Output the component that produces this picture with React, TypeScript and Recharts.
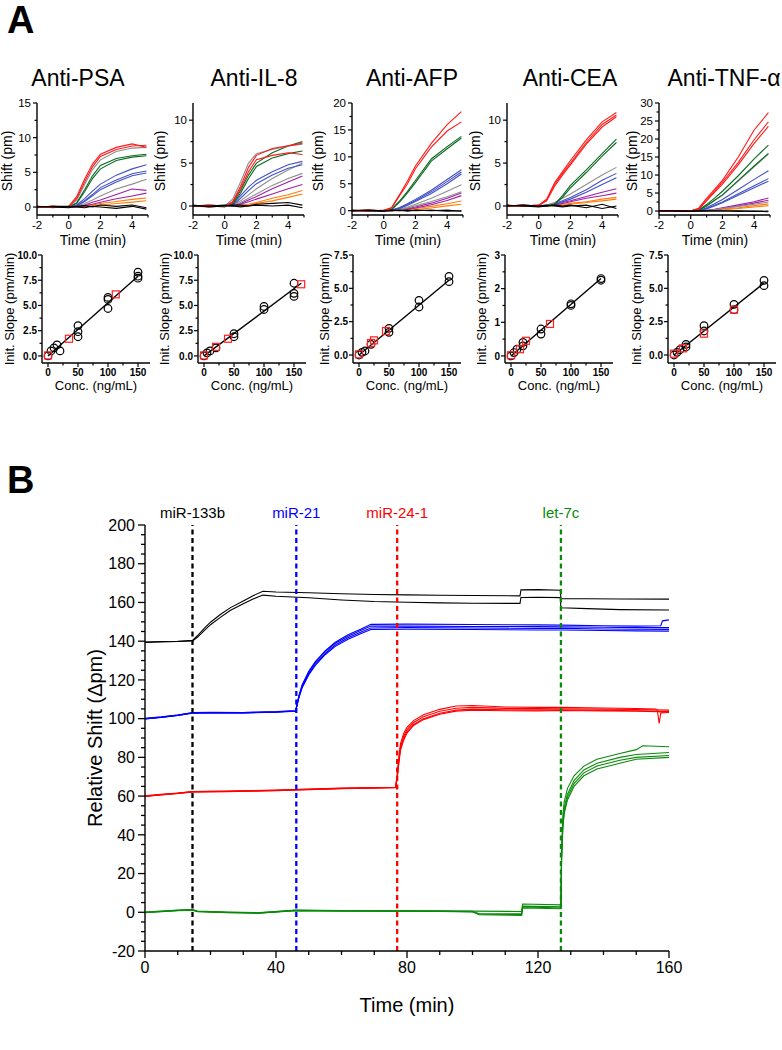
import React from 'react';
import { LineChart, Line, XAxis, YAxis, ScatterChart, Scatter, ReferenceLine } from 'recharts';

const FONT = '"Liberation Sans", Arial, Helvetica, sans-serif';

// ---------------- Panel A: sensorgram traces ----------------
const TIME_A = [-2, -1, 0, 0.5, 1, 1.5, 2, 3, 4, 4.9];
const PANEL_TITLES = ['Anti-PSA', 'Anti-IL-8', 'Anti-AFP', 'Anti-CEA', 'Anti-TNF-α'];

// group key per trace: r=150, g=100, b=50, y=gray, p=purple, o=orange, k=0 ng/mL
const PSA_GROUPS = ['r', 'r', 'y', 'g', 'g', 'b', 'b', 'b', 'y', 'p', 'p', 'o', 'o', 'k', 'k'];
const PSA_TRACES = [
  [0.1, -0.1, 0.1, 1.5, 4.0, 6.2, 7.6, 8.6, 9.1, 8.6],
  [-0.1, 0.1, 0, 1.2, 3.6, 5.8, 7.3, 8.3, 8.8, 8.9],
  [0, 0, 0, 1.0, 3.2, 5.4, 6.8, 8.0, 8.5, 8.6],
  [0, 0.1, 0, 0.6, 2.5, 4.5, 6.0, 7.0, 7.4, 7.6],
  [0, 0, 0.1, 0.5, 2.2, 4.1, 5.5, 6.7, 7.2, 7.4],
  [0, 0, 0, 0.3, 1.2, 2.3, 3.3, 4.6, 5.5, 6.1],
  [0, 0.1, 0, 0.2, 0.9, 1.8, 2.8, 3.9, 4.8, 5.2],
  [0, 0, 0, 0.2, 0.8, 1.6, 2.5, 3.6, 4.5, 4.9],
  [0, 0, 0, 0.1, 0.5, 1.0, 1.6, 2.6, 3.3, 4.0],
  [0, 0, 0, 0.1, 0.3, 0.7, 1.0, 1.8, 2.6, 2.4],
  [0, 0, 0, 0, 0.2, 0.4, 0.7, 1.2, 1.6, 2.0],
  [0, 0, 0, 0, 0.1, 0.3, 0.5, 0.8, 1.1, 1.3],
  [0, 0, 0, 0, 0.1, 0.2, 0.3, 0.5, 0.7, 0.9],
  [0.1, 0, -0.1, 0.1, 0.2, 0, 0.3, 0.1, 0.3, -0.1],
  [0, 0.1, 0.1, 0, -0.1, 0.1, 0, -0.2, 0.1, -0.3],
];

const IL8_GROUPS = ['r', 'r', 'y', 'g', 'g', 'b', 'b', 'y', 'y', 'p', 'p', 'o', 'o', 'k', 'k'];
const IL8_TRACES = [
  [0, 0.1, 0, 0.5, 2.3, 4.5, 5.9, 6.7, 7.0, 7.3],
  [0, -0.1, 0, 0.4, 2.0, 4.0, 5.4, 5.9, 6.2, 6.0],
  [0, 0, 0, 0.8, 2.8, 5.0, 6.1, 6.6, 7.0, 7.2],
  [0, 0, -0.1, 0.3, 1.8, 3.6, 5.0, 6.2, 7.0, 7.5],
  [0, 0.1, 0, 0.2, 1.5, 3.2, 4.6, 5.6, 6.1, 6.4],
  [0, 0, 0, 0.2, 1.2, 2.2, 3.0, 4.0, 4.8, 5.2],
  [0, 0, 0, 0.1, 0.9, 1.8, 2.6, 3.6, 4.4, 4.8],
  [0, 0, 0, 0.1, 0.6, 1.3, 2.0, 3.2, 4.2, 5.0],
  [0, 0, 0, 0.1, 0.4, 0.9, 1.4, 2.4, 3.2, 3.8],
  [0, 0, 0, 0, 0.3, 0.7, 1.1, 2.0, 2.8, 3.5],
  [0, 0, 0, 0, 0.2, 0.5, 0.8, 1.4, 2.0, 2.5],
  [0, 0, 0, 0, 0.1, 0.2, 0.4, 0.9, 1.3, 1.8],
  [0, 0, 0, 0, 0, 0.1, 0.3, 0.6, 1.0, 1.4],
  [0.1, -0.1, 0, 0.1, 0.1, 0, 0.2, 0.3, 0.4, 0.1],
  [0, 0, 0.1, 0, -0.1, 0, 0.1, 0, 0.1, -0.2],
];

const AFP_GROUPS = ['r', 'r', 'g', 'g', 'b', 'b', 'b', 'y', 'y', 'p', 'p', 'o', 'o', 'k', 'k'];
const AFP_TRACES = [
  [0, 0.1, 0, 0.6, 3.0, 5.5, 8.3, 12.5, 16.0, 18.4],
  [0, -0.1, 0.1, 0.5, 2.8, 5.0, 7.8, 11.8, 14.8, 16.5],
  [0, 0, 0, 0.3, 1.8, 3.6, 5.6, 9.6, 11.9, 13.8],
  [0, 0.1, 0, 0.2, 1.6, 3.3, 5.2, 9.2, 11.5, 13.5],
  [0, 0, 0, 0.1, 0.6, 1.3, 2.1, 3.8, 5.8, 7.6],
  [0, 0, 0, 0.1, 0.5, 1.1, 1.9, 3.5, 5.4, 7.2],
  [0, 0, 0, 0.1, 0.4, 1.0, 1.7, 3.2, 5.0, 6.8],
  [0, 0, 0, 0.1, 0.3, 0.7, 1.2, 2.3, 3.6, 4.8],
  [0, 0, 0, 0, 0.2, 0.5, 0.9, 1.7, 2.6, 3.5],
  [0, 0, 0, 0, 0.2, 0.4, 0.7, 1.4, 2.3, 3.3],
  [0, 0, 0, 0, 0.1, 0.3, 0.5, 1.1, 1.9, 2.8],
  [0, 0, 0, 0, 0.1, 0.2, 0.4, 0.8, 1.3, 1.8],
  [0, 0, 0, 0, 0, 0.1, 0.2, 0.5, 0.9, 1.2],
  [0.1, 0, -0.1, 0.1, 0, 0.1, 0, 0.1, -0.1, 0],
  [0, 0.1, 0, 0, 0.1, -0.1, 0.1, 0, 0.1, -0.1],
];

const CEA_GROUPS = ['r', 'r', 'r', 'g', 'g', 'y', 'b', 'b', 'p', 'p', 'o', 'o', 'k', 'k'];
const CEA_TRACES = [
  [0.1, 0, 0.1, 0.8, 2.7, 4.0, 5.3, 7.7, 9.8, 10.9],
  [0, 0.1, 0, 0.7, 2.5, 3.8, 5.0, 7.4, 9.5, 10.6],
  [0, 0, 0.1, 0.6, 2.3, 3.6, 4.8, 7.2, 9.2, 10.4],
  [0, 0, 0, 0, 0.2, 1.2, 2.4, 4.2, 6.1, 7.8],
  [0, 0.1, 0, 0, 0.2, 1.0, 2.1, 3.9, 5.8, 7.4],
  [0, 0, 0, 0.1, 0.4, 0.9, 1.4, 2.5, 3.6, 4.5],
  [0, 0, 0, 0.1, 0.3, 0.6, 1.0, 1.9, 3.0, 3.8],
  [0, 0, 0, 0, 0.2, 0.5, 0.8, 1.6, 2.5, 3.3],
  [0, 0, 0, 0, 0.2, 0.4, 0.6, 1.1, 1.6, 2.0],
  [0, 0, 0, 0, 0.1, 0.3, 0.5, 0.9, 1.2, 1.5],
  [0, 0, 0, 0, 0.1, 0.2, 0.3, 0.5, 0.8, 1.0],
  [0, 0, 0, 0, 0, 0.1, 0.2, 0.4, 0.6, 0.8],
  [0.1, 0, -0.1, 0, 0.1, 0, 0.1, -0.2, 0.2, -0.3],
  [0, 0.1, 0, 0.1, 0, -0.1, 0, 0.1, -0.3, 0],
];

const TNF_GROUPS = ['r', 'r', 'r', 'g', 'g', 'y', 'b', 'b', 'b', 'y', 'p', 'p', 'o', 'o', 'k', 'k'];
const TNF_TRACES = [
  [0, 0.1, 0, 0.8, 3.5, 6.0, 8.5, 15.0, 22.5, 27.3],
  [0, -0.1, 0.1, 0.6, 3.0, 5.5, 8.0, 13.5, 19.8, 24.8],
  [0, 0, 0, 0.5, 2.8, 5.2, 7.5, 12.8, 18.8, 23.5],
  [0, 0, 0, 0.3, 1.8, 3.6, 5.5, 9.8, 14.5, 18.3],
  [0, 0.1, 0, 0.2, 1.4, 3.0, 4.5, 8.5, 12.5, 16.0],
  [0, 0, 0, 0.2, 1.4, 2.9, 4.4, 8.3, 12.3, 15.8],
  [0, 0, 0, 0.1, 0.9, 2.0, 3.2, 6.0, 8.8, 11.2],
  [0, 0, 0, 0.1, 0.7, 1.6, 2.5, 4.8, 7.0, 9.0],
  [0, 0, 0, 0.1, 0.6, 1.4, 2.3, 4.4, 6.5, 8.3],
  [0, 0, 0, 0, 0.2, 0.4, 0.7, 1.3, 1.9, 2.5],
  [0, 0, 0, 0, 0.2, 0.5, 0.9, 1.7, 2.6, 3.6],
  [0, 0, 0, 0, 0.1, 0.4, 0.7, 1.4, 2.2, 3.0],
  [0, 0, 0, 0, 0.1, 0.3, 0.5, 0.9, 1.5, 2.0],
  [0, 0, 0, 0, 0.1, 0.2, 0.3, 0.7, 1.1, 1.5],
  [0.1, 0, -0.1, 0, 0.1, 0, 0.1, -0.1, 0, -0.2],
  [0, 0.1, 0, 0.1, 0, 0.1, 0, 0.1, -0.1, 0],
];

// ---------------- Panel A: calibration (initial slope vs conc.) ----------------
const PSA_STD_X = [0, 5, 10, 15, 20, 50, 50, 50, 100, 100, 100, 150, 150, 150];
const PSA_STD_Y = [0, 0.5, 0.8, 1.1, 0.5, 1.9, 2.4, 3.0, 4.7, 5.6, 5.8, 7.7, 7.9, 8.3];
const PSA_SMP_X = [0, 35, 113];
const PSA_SMP_Y = [0.05, 1.7, 6.1];
const PSA_FIT_X = [0, 150];
const PSA_FIT_Y = [0, 7.9];

const IL8_STD_X = [0, 5, 10, 20, 50, 50, 100, 100, 150, 150, 150];
const IL8_STD_Y = [0, 0.3, 0.5, 0.8, 1.9, 2.2, 4.6, 4.9, 5.9, 6.2, 7.2];
const IL8_SMP_X = [0, 20, 40, 162];
const IL8_SMP_Y = [0.05, 0.9, 1.7, 7.1];
const IL8_FIT_X = [0, 162];
const IL8_FIT_Y = [0, 7.2];

const AFP_STD_X = [0, 5, 10, 20, 50, 50, 100, 100, 150, 150];
const AFP_STD_Y = [0, 0.2, 0.3, 0.8, 1.7, 2.0, 3.6, 4.1, 5.5, 5.9];
const AFP_SMP_X = [0, 20, 25, 45];
const AFP_SMP_Y = [0.05, 0.9, 1.1, 1.8];
const AFP_FIT_X = [0, 150];
const AFP_FIT_Y = [0, 5.6];

const CEA_STD_X = [0, 5, 10, 20, 20, 50, 50, 100, 100, 150, 150];
const CEA_STD_Y = [0, 0.1, 0.2, 0.3, 0.4, 0.65, 0.8, 1.5, 1.55, 2.25, 2.3];
const CEA_SMP_X = [0, 15, 25, 65];
const CEA_SMP_Y = [0.02, 0.2, 0.45, 0.95];
const CEA_FIT_X = [0, 150];
const CEA_FIT_Y = [0, 2.3];

const TNF_STD_X = [0, 5, 10, 20, 20, 50, 50, 100, 100, 150, 150];
const TNF_STD_Y = [0, 0.2, 0.4, 0.6, 0.8, 1.8, 2.2, 3.4, 3.8, 5.2, 5.6];
const TNF_SMP_X = [0, 15, 50, 100];
const TNF_SMP_Y = [0.1, 0.5, 1.6, 3.4];
const TNF_FIT_X = [0, 150];
const TNF_FIT_Y = [0, 5.4];

// ---------------- Panel B: miRNA multiplex traces (time min, shift pm) ----------------
const B_BLACK_1: [number, number][] = [[0, 139.6], [5, 139.8], [10, 140.0], [14.5, 140.4], [16, 142.8], [18, 146.5], [20, 149.8], [23, 153.8], [26, 157.2], [30, 160.8], [33, 163.5], [36, 165.8], [40, 165.4], [50, 165.0], [60, 164.5], [70, 164.1], [80, 163.9], [90, 163.7], [100, 163.6], [114.5, 163.4], [114.8, 166.5], [120, 166.6], [126.8, 166.3], [127, 162.0], [135, 161.9], [145, 161.8], [160, 161.7]];
const B_BLACK_2: [number, number][] = [[0, 139.4], [5, 139.6], [10, 139.8], [14.5, 140.1], [16, 142.0], [18, 145.3], [20, 148.5], [23, 152.3], [26, 155.8], [30, 159.3], [33, 161.8], [36, 163.8], [40, 163.2], [50, 162.4], [60, 161.3], [70, 160.5], [80, 160.1], [90, 159.8], [100, 159.6], [114.5, 159.5], [114.8, 162.6], [120, 162.7], [126.8, 162.5], [127, 157.3], [135, 156.8], [145, 156.3], [160, 156.1]];
const B_BLUE_1: [number, number][] = [[0, 100], [5, 100.8], [10, 101.8], [14.5, 103], [20, 103.2], [30, 103.1], [40, 103.5], [46, 104], [46.5, 108], [47, 112], [48, 117.5], [50, 124.5], [52, 129.5], [55, 135], [58, 139.3], [62, 143.3], [66, 146.3], [69, 148.7], [80, 148.8], [100, 148.6], [120, 148.4], [127, 148.3], [140, 148], [150, 147.8], [157.5, 148], [158, 150.5], [160, 151]];
const B_BLUE_2: [number, number][] = [[0, 99.8], [5, 100.6], [10, 101.6], [14.5, 102.8], [20, 103], [30, 102.9], [40, 103.3], [46, 103.8], [46.5, 107.5], [47, 111.5], [48, 117], [50, 124], [52, 129], [55, 134.5], [58, 138.8], [62, 142.6], [66, 145.6], [69, 147.8], [80, 147.8], [100, 147.6], [120, 147.5], [127, 147.4], [140, 147.2], [150, 147], [160, 147]];
const B_BLUE_3: [number, number][] = [[0, 100.2], [5, 100.9], [10, 101.9], [14.5, 103.1], [20, 103.3], [30, 103.2], [40, 103.6], [46, 104.1], [46.5, 107.8], [47, 111.2], [48, 116.5], [50, 123.2], [52, 128.2], [55, 133.6], [58, 137.9], [62, 141.8], [66, 144.8], [69, 146.8], [80, 147], [100, 146.8], [120, 146.6], [127, 146.6], [140, 146.3], [150, 146.2], [160, 146.1]];
const B_BLUE_4: [number, number][] = [[0, 99.9], [5, 100.7], [10, 101.7], [14.5, 102.9], [20, 103.1], [30, 103], [40, 103.4], [46, 103.9], [46.5, 107.3], [47, 110.8], [48, 116], [50, 122.6], [52, 127.5], [55, 133], [58, 137.2], [62, 141], [66, 144], [69, 146], [80, 146.2], [100, 146], [120, 145.8], [127, 145.8], [140, 145.5], [150, 145.3], [160, 145.2]];
const B_RED_1: [number, number][] = [[0, 60], [5, 60.8], [10, 61.5], [14.5, 62.3], [25, 62.5], [40, 63], [50, 63.5], [60, 64], [76.5, 64.5], [77, 71], [77.5, 80], [78, 87], [79, 92.5], [80, 95.5], [82, 99], [85, 102], [90, 104.8], [95, 106.5], [100, 106.8], [110, 106], [120, 105.8], [127, 105.8], [140, 105.5], [150, 105.2], [156, 105], [157, 103.5], [160, 103.8]];
const B_RED_2: [number, number][] = [[0, 59.8], [5, 60.6], [10, 61.3], [14.5, 62.1], [25, 62.3], [40, 62.8], [50, 63.3], [60, 63.8], [76.5, 64.3], [77, 70], [77.5, 78.5], [78, 85.5], [79, 91], [80, 94.3], [82, 98], [85, 101], [90, 103.8], [95, 105.4], [100, 105.8], [110, 105.3], [120, 105.2], [127, 105.1], [140, 104.9], [150, 104.7], [160, 104.4]];
const B_RED_3: [number, number][] = [[0, 60.1], [5, 60.9], [10, 61.6], [14.5, 62.4], [25, 62.6], [40, 63.1], [50, 63.6], [60, 64.1], [76.5, 64.6], [77, 69.5], [77.5, 77.5], [78, 84.5], [79, 90], [80, 93.2], [82, 97], [85, 100], [90, 102.8], [95, 104.4], [100, 104.9], [110, 104.6], [120, 104.5], [127, 104.6], [140, 104.3], [150, 104.1], [160, 103.7]];
const B_RED_4: [number, number][] = [[0, 59.9], [5, 60.7], [10, 61.4], [14.5, 62.2], [25, 62.4], [40, 62.9], [50, 63.4], [60, 63.9], [76.5, 64.4], [77, 69], [77.5, 77], [78, 83.5], [79, 89], [80, 92.5], [82, 96.5], [85, 99.5], [90, 102.3], [95, 103.9], [100, 104.3], [110, 104.1], [120, 104], [127, 104.2], [140, 104], [150, 103.8], [156.5, 103.6], [157, 97.5], [157.5, 103], [160, 103.2]];
const B_GREEN_1: [number, number][] = [[0, 0], [5, 0.5], [10, 1], [14.5, 1.3], [16, 0.5], [25, 0], [35, -0.3], [46, 1], [60, 0.8], [77, 0.7], [90, 0.6], [100, 0.6], [115, 0.4], [115.3, 4.3], [127, 3.8], [127.2, 32], [127.6, 50], [128, 57], [129, 64], [131, 70.5], [134, 75.5], [138, 79], [145, 82], [150, 84], [152, 86], [160, 85.5]];
const B_GREEN_2: [number, number][] = [[0, -0.2], [5, 0.3], [10, 0.8], [14.5, 1.1], [16, 0.3], [25, -0.2], [35, -0.5], [46, 0.8], [60, 0.6], [77, 0.5], [90, 0.4], [100, 0.2], [102, -0.6], [115, -0.8], [115.3, 3.2], [127, 2.8], [127.2, 30], [127.6, 47], [128, 54], [129, 61], [131, 68], [134, 73.5], [138, 77], [145, 80], [150, 81.5], [160, 82.5]];
const B_GREEN_3: [number, number][] = [[0, 0.1], [5, 0.6], [10, 1.1], [14.5, 1.4], [16, 0.6], [25, 0.1], [35, -0.2], [46, 1.1], [60, 0.9], [77, 0.8], [90, 0.7], [100, 0.5], [102, -1], [115, -1.2], [115.3, 2.8], [127, 2.2], [127.2, 28], [127.6, 45], [128, 52], [129, 59.5], [131, 66.5], [134, 72], [138, 75.5], [145, 78.5], [150, 80], [160, 81]];
const B_GREEN_4: [number, number][] = [[0, -0.1], [5, 0.4], [10, 0.9], [14.5, 1.2], [16, 0.4], [25, -0.1], [35, -0.4], [46, 0.9], [60, 0.7], [77, 0.6], [90, 0.5], [100, 0.3], [102, -1.3], [115, -1.6], [115.3, 2.2], [127, 1.8], [127.2, 27], [127.6, 44], [128, 51], [129, 58], [131, 65], [134, 70.5], [138, 74], [145, 77], [150, 79], [160, 80]];

const B_EVENTS_T = [14.5, 46.2, 77, 127];
const B_EVENTS_LABEL = ['miR-133b', 'miR-21', 'miR-24-1', 'let-7c'];

// ---------------- styles ----------------
const GROUP_COLORS: Record<string, string> = {
  r: '#ff1a1a', g: '#0b6b21', b: '#4150c6', y: '#8e8e8e', p: '#a11ea6', o: '#ff7c0a', k: '#000000',
};
const B_COLORS = { black: '#000000', blue: '#0000ff', red: '#ff0000', green: '#0a8a0a' };
const B_EVENT_COLORS = ['#000000', '#0000ff', '#ff0000', '#0a8a0a'];

const TOP_AXIS_X = [37, 193, 352, 507, 659];
const SCAT_AXIS_X = [42, 198, 353, 505, 668];

const near = (a: number, b: number) => Math.abs(a - b) < 1e-6;
const range = (a: number, b: number, s: number) => {
  const out: number[] = [];
  for (let v = a; v <= b + 1e-9; v += s) out.push(Math.round(v * 1000) / 1000);
  return out;
};

type TickOpt = { majors: number[]; fmt: (v: number) => string; fs: number; bold?: boolean; maj: number; min: number; gap: number; sw: number };

const leftTick = (o: TickOpt) => (props: any) => {
  const { x, y, payload } = props;
  const v = payload.value;
  const isMaj = o.majors.some((m) => near(m, v));
  const len = isMaj ? o.maj : o.min;
  return (
    <g>
      <line x1={x} x2={x - len} y1={y} y2={y} stroke="#000" strokeWidth={o.sw} />
      {isMaj && (
        <text x={x - o.maj - o.gap} y={y} dy="0.36em" textAnchor="end" fontSize={o.fs} fontWeight={o.bold ? 'bold' : 'normal'} fontFamily={FONT} fill="#000">
          {o.fmt(v)}
        </text>
      )}
    </g>
  );
};

const bottomTick = (o: TickOpt) => (props: any) => {
  const { x, y, payload } = props;
  const v = payload.value;
  const isMaj = o.majors.some((m) => near(m, v));
  const len = isMaj ? o.maj : o.min;
  return (
    <g>
      <line x1={x} x2={x} y1={y} y2={y + len} stroke="#000" strokeWidth={o.sw} />
      {isMaj && (
        <text x={x} y={y + o.maj + o.gap + o.fs * 0.75} textAnchor="middle" fontSize={o.fs} fontWeight={o.bold ? 'bold' : 'normal'} fontFamily={FONT} fill="#000">
          {o.fmt(v)}
        </text>
      )}
    </g>
  );
};

const axisLineStyle = { stroke: '#000', strokeWidth: 1.4 };

function TraceChart(props: { axisX: number; traces: number[][]; groups: string[]; yMax: number; yMin: number; yMajorStep: number }) {
  const { axisX, traces, groups, yMax, yMin, yMajorStep } = props;
  const rows = TIME_A.map((t, i) => {
    const r: any = { t };
    traces.forEach((tr, j) => (r['s' + j] = tr[i]));
    return r;
  });
  const yTicks = range(0, yMax, yMajorStep / 2);
  const yMajors = range(0, yMax, yMajorStep);
  const colored = traces.map((_, j) => j).filter((j) => groups[j] !== 'k').reverse();
  const blacks = traces.map((_, j) => j).filter((j) => groups[j] === 'k');
  const order = [...colored, ...blacks];
  return (
    <div style={{ position: 'absolute', left: axisX - 40, top: 90 }}>
      <LineChart width={162} height={145} data={rows} margin={{ top: 13, right: 11, left: 0, bottom: 0 }}>
        <XAxis
          dataKey="t" type="number" domain={[-2, 5]} allowDataOverflow ticks={[-2, -1, 0, 1, 2, 3, 4, 5]} interval={0}
          height={20} tickSize={0} tickMargin={0} tickLine={false} axisLine={axisLineStyle}
          tick={bottomTick({ majors: [-2, 0, 2, 4], fmt: (v) => String(v), fs: 11.5, maj: 4, min: 2.5, gap: 1, sw: 1.2 })}
        />
        <YAxis
          type="number" domain={[yMin, yMax]} allowDataOverflow ticks={yTicks} interval={0}
          width={40} tickSize={0} tickMargin={0} tickLine={false} axisLine={axisLineStyle}
          tick={leftTick({ majors: yMajors, fmt: (v) => String(v), fs: 11.5, maj: 4, min: 2.5, gap: 2, sw: 1.2 })}
        />
        {order.map((j) => (
          <Line key={j} dataKey={'s' + j} type="linear" stroke={GROUP_COLORS[groups[j]]} strokeWidth={1.1} dot={false} isAnimationActive={false} />
        ))}
      </LineChart>
    </div>
  );
}

function CalChart(props: {
  axisX: number; sx: number[]; sy: number[]; ux: number[]; uy: number[]; fx: number[]; fy: number[];
  yMin: number; yMax: number; yStep: number; fmt: (v: number) => string;
}) {
  const { axisX, sx, sy, ux, uy, fx, fy, yMin, yMax, yStep, fmt } = props;
  const std = sx.map((x, i) => ({ x, y: sy[i] }));
  const smp = ux.map((x, i) => ({ x, y: uy[i] }));
  const yTicks = range(0, yMax, yStep / 2);
  const yMajors = range(0, yMax, yStep);
  return (
    <div style={{ position: 'absolute', left: axisX - 40, top: 245 }}>
      <ScatterChart width={156} height={138} margin={{ top: 10, right: 8, left: 0, bottom: 0 }}>
        <XAxis
          dataKey="x" type="number" domain={[-10, 170]} allowDataOverflow ticks={[0, 25, 50, 75, 100, 125, 150]} interval={0}
          height={20} tickSize={0} tickMargin={0} tickLine={false} axisLine={axisLineStyle}
          tick={bottomTick({ majors: [0, 50, 100, 150], fmt: (v) => String(v), fs: 10, bold: true, maj: 4, min: 2.5, gap: 1, sw: 1.2 })}
        />
        <YAxis
          dataKey="y" type="number" domain={[yMin, yMax]} allowDataOverflow ticks={yTicks} interval={0}
          width={40} tickSize={0} tickMargin={0} tickLine={false} axisLine={axisLineStyle}
          tick={leftTick({ majors: yMajors, fmt, fs: 10, bold: true, maj: 4, min: 2.5, gap: 1, sw: 1.2 })}
        />
        <ReferenceLine segment={[{ x: fx[0], y: fy[0] }, { x: fx[1], y: fy[1] }]} stroke="#000" strokeWidth={1.4} ifOverflow="visible" />
        <Scatter
          data={std} isAnimationActive={false}
          shape={(p: any) => <circle cx={p.cx} cy={p.cy} r={3.8} fill="none" stroke="#000" strokeWidth={1.2} />}
        />
        <Scatter
          data={smp} isAnimationActive={false}
          shape={(p: any) => <rect x={p.cx - 3.5} y={p.cy - 3.5} width={7} height={7} fill="none" stroke="#ff2020" strokeWidth={1.2} />}
        />
      </ScatterChart>
    </div>
  );
}

const toRows = (pts: [number, number][]) => pts.map(([t, v]) => ({ t, v }));

function PanelB() {
  const series: { pts: [number, number][]; color: string }[] = [
    { pts: B_BLACK_1, color: B_COLORS.black }, { pts: B_BLACK_2, color: B_COLORS.black },
    { pts: B_BLUE_1, color: B_COLORS.blue }, { pts: B_BLUE_2, color: B_COLORS.blue },
    { pts: B_BLUE_3, color: B_COLORS.blue }, { pts: B_BLUE_4, color: B_COLORS.blue },
    { pts: B_RED_1, color: B_COLORS.red }, { pts: B_RED_2, color: B_COLORS.red },
    { pts: B_RED_3, color: B_COLORS.red }, { pts: B_RED_4, color: B_COLORS.red },
    { pts: B_GREEN_1, color: B_COLORS.green }, { pts: B_GREEN_2, color: B_COLORS.green },
    { pts: B_GREEN_3, color: B_COLORS.green }, { pts: B_GREEN_4, color: B_COLORS.green },
  ];
  return (
    <div style={{ position: 'absolute', left: 60, top: 490 }}>
      <LineChart width={649} height={521} margin={{ top: 35, right: 40, left: 0, bottom: 0 }}>
        <XAxis
          dataKey="t" type="number" domain={[0, 160]} allowDataOverflow ticks={range(0, 160, 10)} interval={0}
          height={60} tickSize={0} tickMargin={0} tickLine={false} axisLine={axisLineStyle}
          tick={bottomTick({ majors: [0, 40, 80, 120, 160], fmt: (v) => String(v), fs: 16, maj: 7, min: 4, gap: 3, sw: 1.3 })}
        />
        <YAxis
          type="number" domain={[-20, 200]} allowDataOverflow ticks={range(-20, 200, 5)} interval={0}
          width={85} tickSize={0} tickMargin={0} tickLine={false} axisLine={axisLineStyle}
          tick={leftTick({ majors: range(-20, 200, 20), fmt: (v) => String(v), fs: 16, maj: 7, min: 4, gap: 3, sw: 1.3 })}
        />
        {series.map((s, i) => (
          <Line key={i} data={toRows(s.pts)} dataKey="v" type="linear" stroke={s.color} strokeWidth={1.1} dot={false} isAnimationActive={false} />
        ))}
        {B_EVENTS_T.map((t, i) => (
          <ReferenceLine
            key={'ev' + i} x={t} stroke={B_EVENT_COLORS[i]} strokeWidth={2.3} strokeDasharray="5 3.5"
            label={{ value: B_EVENTS_LABEL[i], position: 'top', offset: 7, fill: B_EVENT_COLORS[i], fontSize: 15, fontFamily: FONT }}
          />
        ))}
      </LineChart>
    </div>
  );
}

const TITLE_CX = [78, 254, 412, 570, 724];
const SHIFT_LABEL_X = [7, 160, 318, 475, 632];
const SLOPE_LABEL_X = [9, 164, 324, 481, 636];

export default function App() {
  const topCfg = [
    { traces: PSA_TRACES, groups: PSA_GROUPS, yMin: -1.15, yMax: 15, step: 5 },
    { traces: IL8_TRACES, groups: IL8_GROUPS, yMin: -1.05, yMax: 12, step: 5 },
    { traces: AFP_TRACES, groups: AFP_GROUPS, yMin: -0.8, yMax: 20, step: 5 },
    { traces: CEA_TRACES, groups: CEA_GROUPS, yMin: -1.05, yMax: 12, step: 5 },
    { traces: TNF_TRACES, groups: TNF_GROUPS, yMin: -1.1, yMax: 30, step: 5 },
  ];
  const f1 = (v: number) => v.toFixed(1);
  const f0 = (v: number) => String(v);
  const calCfg = [
    { sx: PSA_STD_X, sy: PSA_STD_Y, ux: PSA_SMP_X, uy: PSA_SMP_Y, fx: PSA_FIT_X, fy: PSA_FIT_Y, yMin: -0.7, yMax: 10, step: 2.5, fmt: f1 },
    { sx: IL8_STD_X, sy: IL8_STD_Y, ux: IL8_SMP_X, uy: IL8_SMP_Y, fx: IL8_FIT_X, fy: IL8_FIT_Y, yMin: -0.7, yMax: 10, step: 2.5, fmt: f1 },
    { sx: AFP_STD_X, sy: AFP_STD_Y, ux: AFP_SMP_X, uy: AFP_SMP_Y, fx: AFP_FIT_X, fy: AFP_FIT_Y, yMin: -0.6, yMax: 7.5, step: 2.5, fmt: f1 },
    { sx: CEA_STD_X, sy: CEA_STD_Y, ux: CEA_SMP_X, uy: CEA_SMP_Y, fx: CEA_FIT_X, fy: CEA_FIT_Y, yMin: -0.21, yMax: 3, step: 1, fmt: f0 },
    { sx: TNF_STD_X, sy: TNF_STD_Y, ux: TNF_SMP_X, uy: TNF_SMP_Y, fx: TNF_FIT_X, fy: TNF_FIT_Y, yMin: -0.6, yMax: 7.5, step: 2.5, fmt: f1 },
  ];
  return (
    <div style={{ position: 'absolute', left: 0, top: 0, width: 782, height: 1050, background: '#fff', fontFamily: FONT }}>
      {topCfg.map((c, i) => (
        <TraceChart key={'t' + i} axisX={TOP_AXIS_X[i]} traces={c.traces} groups={c.groups} yMin={c.yMin} yMax={c.yMax} yMajorStep={c.step} />
      ))}
      {calCfg.map((c, i) => (
        <CalChart key={'c' + i} axisX={SCAT_AXIS_X[i]} sx={c.sx} sy={c.sy} ux={c.ux} uy={c.uy} fx={c.fx} fy={c.fy} yMin={c.yMin} yMax={c.yMax} yStep={c.step} fmt={c.fmt} />
      ))}
      <PanelB />
      <svg width={782} height={1050} style={{ position: 'absolute', left: 0, top: 0, pointerEvents: 'none' }}>
        <g fontFamily={FONT} fill="#000">
          <text x={7} y={33} fontSize={38} fontWeight="bold">A</text>
          <text x={7} y={493} fontSize={38} fontWeight="bold">B</text>
          {PANEL_TITLES.map((t, i) => (
            <text key={'ti' + i} x={TITLE_CX[i]} y={86} fontSize={23} textAnchor="middle">{t}</text>
          ))}
          {TOP_AXIS_X.map((ax, i) => (
            <g key={'tl' + i}>
              <text x={ax + 56} y={245} fontSize={14} textAnchor="middle">Time (min)</text>
              <text transform={`translate(${SHIFT_LABEL_X[i] + 5},161) rotate(-90)`} fontSize={14} textAnchor="middle">Shift (pm)</text>
            </g>
          ))}
          {SCAT_AXIS_X.map((ax, i) => (
            <g key={'cl' + i}>
              <text x={ax + 54} y={390} fontSize={13} textAnchor="middle">Conc. (ng/mL)</text>
              <text transform={`translate(${SLOPE_LABEL_X[i] + 5},309) rotate(-90)`} fontSize={13} textAnchor="middle">Init. Slope (pm/min)</text>
            </g>
          ))}
          <text x={407} y={1012} fontSize={20} textAnchor="middle">Time (min)</text>
          <text transform="translate(102,738) rotate(-90)" fontSize={20} textAnchor="middle">Relative Shift (Δpm)</text>
        </g>
      </svg>
    </div>
  );
}
